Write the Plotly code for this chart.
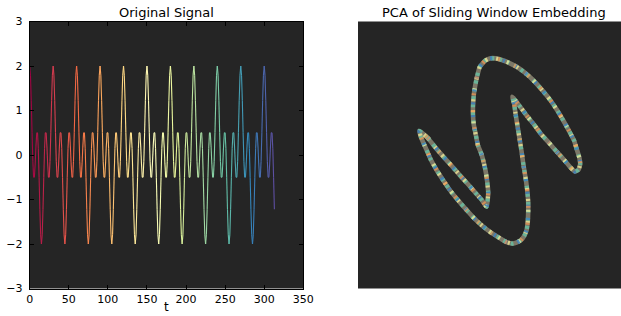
import numpy as np
import plotly.graph_objects as go

# ---------------- data ----------------
# Original signal, one value per time step t = 0 .. 313
SIGNAL = [
    2.0, 1.79, 1.22, 0.5, -0.14, -0.5, -0.5, -0.2, 0.2, 0.5, 0.5, 0.14, -0.5, -1.22, -1.79,
    -2.0, -1.79, -1.22, -0.5, 0.14, 0.5, 0.5, 0.2, -0.2, -0.5, -0.5, -0.14, 0.5, 1.22, 1.79,
    2.0, 1.79, 1.22, 0.5, -0.14, -0.5, -0.5, -0.2, 0.2, 0.5, 0.5, 0.14, -0.5, -1.22, -1.79,
    -2.0, -1.79, -1.22, -0.5, 0.14, 0.5, 0.5, 0.2, -0.2, -0.5, -0.5, -0.14, 0.5, 1.22, 1.79,
    2.0, 1.79, 1.22, 0.5, -0.14, -0.5, -0.5, -0.2, 0.2, 0.5, 0.5, 0.14, -0.5, -1.22, -1.79,
    -2.0, -1.79, -1.22, -0.5, 0.14, 0.5, 0.5, 0.2, -0.2, -0.5, -0.5, -0.14, 0.5, 1.22, 1.79,
    2.0, 1.79, 1.22, 0.5, -0.14, -0.5, -0.5, -0.2, 0.2, 0.5, 0.5, 0.14, -0.5, -1.22, -1.79,
    -2.0, -1.79, -1.22, -0.5, 0.14, 0.5, 0.5, 0.2, -0.2, -0.5, -0.5, -0.14, 0.5, 1.22, 1.79,
    2.0, 1.79, 1.22, 0.5, -0.14, -0.5, -0.5, -0.2, 0.2, 0.5, 0.5, 0.14, -0.5, -1.22, -1.79,
    -2.0, -1.79, -1.22, -0.5, 0.14, 0.5, 0.5, 0.2, -0.2, -0.5, -0.5, -0.14, 0.5, 1.22, 1.79,
    2.0, 1.79, 1.22, 0.5, -0.14, -0.5, -0.5, -0.2, 0.2, 0.5, 0.5, 0.14, -0.5, -1.22, -1.79,
    -2.0, -1.79, -1.22, -0.5, 0.14, 0.5, 0.5, 0.2, -0.2, -0.5, -0.5, -0.14, 0.5, 1.22, 1.79,
    2.0, 1.79, 1.22, 0.5, -0.14, -0.5, -0.5, -0.2, 0.2, 0.5, 0.5, 0.14, -0.5, -1.22, -1.79,
    -2.0, -1.79, -1.22, -0.5, 0.14, 0.5, 0.5, 0.2, -0.2, -0.5, -0.5, -0.14, 0.5, 1.22, 1.79,
    2.0, 1.79, 1.22, 0.5, -0.14, -0.5, -0.5, -0.2, 0.2, 0.5, 0.5, 0.14, -0.5, -1.22, -1.79,
    -2.0, -1.79, -1.22, -0.5, 0.14, 0.5, 0.5, 0.2, -0.2, -0.5, -0.5, -0.14, 0.5, 1.22, 1.79,
    2.0, 1.79, 1.22, 0.5, -0.14, -0.5, -0.5, -0.2, 0.2, 0.5, 0.5, 0.14, -0.5, -1.22, -1.79,
    -2.0, -1.79, -1.22, -0.5, 0.14, 0.5, 0.5, 0.2, -0.2, -0.5, -0.5, -0.14, 0.5, 1.22, 1.79,
    2.0, 1.79, 1.22, 0.5, -0.14, -0.5, -0.5, -0.2, 0.2, 0.5, 0.5, 0.14, -0.5, -1.22, -1.79,
    -2.0, -1.79, -1.22, -0.5, 0.14, 0.5, 0.5, 0.2, -0.2, -0.5, -0.5, -0.14, 0.5, 1.22, 1.79,
    2.0, 1.79, 1.22, 0.5, -0.14, -0.5, -0.5, -0.2, 0.2, 0.5, 0.5, 0.14, -0.5, -1.22,
]
T = list(range(len(SIGNAL)))

# PCA of the sliding-window embedding, traced in order around the loop
PC1 = [-1.99, -1.78, -1.58, -1.38, -1.18, -0.98, -0.78, -0.58, -0.43, -0.31,
       -0.27, -0.30, -0.35, -0.43, -0.53, -0.58, -0.63, -0.65, -0.65, -0.63, -0.60, -0.55, -0.48,
       -0.35, -0.23, -0.08, 0.07, 0.25, 0.44,
       0.65, 0.85, 1.05, 1.28, 1.45, 1.60, 1.75, 1.88, 1.95, 2.01, 2.03, 1.99, 1.90,
       1.78, 1.63, 1.45, 1.25, 1.05, 0.88, 0.70, 0.53, 0.40, 0.33,
       0.38, 0.41, 0.45, 0.49, 0.53, 0.57, 0.60, 0.64, 0.68, 0.71, 0.73, 0.73, 0.72, 0.69, 0.63, 0.55, 0.45, 0.33,
       0.18, 0.03, -0.18, -0.39, -0.60, -0.81, -1.03, -1.23, -1.40, -1.56, -1.70, -1.81, -1.90, -1.96]
PC2 = [0.48, 0.30, 0.05, -0.18, -0.40, -0.63, -0.85, -1.08, -1.25, -1.42,
       -1.08, -0.75, -0.45, -0.13, 0.13, 0.38, 0.63, 0.88, 1.10, 1.38, 1.58, 1.83, 2.08,
       2.23, 2.29, 2.29, 2.25, 2.18, 2.08,
       1.93, 1.75, 1.53, 1.25, 1.00, 0.75, 0.48, 0.23, 0.00, -0.20, -0.35, -0.49, -0.54,
       -0.43, -0.25, -0.05, 0.18, 0.40, 0.63, 0.85, 1.08, 1.25, 1.33,
       1.15, 0.93, 0.68, 0.43, 0.18, -0.08, -0.30, -0.55, -0.80, -1.05, -1.30, -1.55, -1.78, -2.00, -2.15, -2.25, -2.31, -2.34,
       -2.30, -2.21, -2.08, -1.92, -1.73, -1.50, -1.25, -1.00, -0.75, -0.50, -0.25, 0.00, 0.20, 0.35]

X_TICKS = [0, 50, 100, 150, 200, 250, 300, 350]
Y_TICKS = [-3, -2, -1, 0, 1, 2, 3]

# ---------------- style ----------------
SPECTRAL = [(158, 1, 66), (213, 62, 79), (244, 109, 67), (253, 174, 97), (254, 224, 139),
            (255, 255, 191), (230, 245, 152), (171, 221, 164), (102, 194, 165), (50, 136, 189),
            (94, 79, 162)]
_stops = np.linspace(0, 1, len(SPECTRAL))
_arr = np.array(SPECTRAL, dtype=float)


def spectral(v):
    r, g, b = (np.interp(v, _stops, _arr[:, k]) for k in range(3))
    return "rgb(%d,%d,%d)" % (round(r), round(g), round(b))


FONT = "DejaVu Sans"
BG = "#252525"
W, H = 621, 316

fig = go.Figure()

# ---- left panel: signal, coloured along time ----
n = len(SIGNAL)
for i in range(n - 1):
    fig.add_trace(go.Scatter(
        x=T[i:i + 2], y=SIGNAL[i:i + 2], mode="lines",
        line=dict(color=spectral(i / (n - 2)), width=1.1),
        xaxis="x", yaxis="y", hoverinfo="skip", showlegend=False))

# ---- right panel: embedding loop ----
lx = PC1 + PC1[:1]
ly = PC2 + PC2[:1]
band = [
    ("rgb(125,120,104)", 4.6, "solid", 1.0),
    ("rgb(102,194,165)", 4.2, "3px,5px", 0.8),
    ("rgb(238,232,150)", 4.2, "2px,9px", 0.8),
    ("rgb(60,130,190)", 4.2, "2px,11px", 0.85),
    ("rgb(244,150,80)", 4.2, "2px,15px", 0.7),
]
for col, wdt, dash, op in band:
    fig.add_trace(go.Scatter(
        x=lx, y=ly, mode="lines", opacity=op,
        line=dict(color=col, width=wdt, dash=dash, shape="spline", smoothing=0.4),
        xaxis="x2", yaxis="y2", hoverinfo="skip", showlegend=False))

ax_common = dict(showgrid=False, zeroline=False, automargin=False)
fig.update_layout(
    width=W, height=H, autosize=False,
    margin=dict(l=0, r=0, t=0, b=0, pad=0),
    paper_bgcolor="white", plot_bgcolor=BG,
    font=dict(family=FONT, size=11, color="black"),
    xaxis=dict(domain=[29.7 / W, 303.3 / W], range=[0, 350], tickvals=X_TICKS,
               ticks="inside", ticklen=4, tickcolor="black", showline=True, linecolor="black",
               linewidth=1, mirror="ticks", tickfont=dict(size=11), anchor="y", **ax_common),
    yaxis=dict(domain=[1 - 288.5 / H, 1 - 21.5 / H], range=[-3, 3], tickvals=Y_TICKS,
               ticks="inside", ticklen=4, tickcolor="black", showline=True, linecolor="black",
               linewidth=1, mirror="ticks", tickfont=dict(size=11), ticklabelstandoff=4,
               anchor="x", **ax_common),
    xaxis2=dict(domain=[358 / W, 1.0], range=[-3.525, 3.05], showticklabels=False,
                ticks="", showline=False, anchor="y2", **ax_common),
    yaxis2=dict(domain=[1 - 288.5 / H, 1 - 21.5 / H], range=[-3.4625, 3.2125],
                showticklabels=False, ticks="", showline=False, anchor="x2", **ax_common),
    annotations=[
        dict(text="Original Signal", x=166.5 / W, y=1 - 12.5 / H, xref="paper", yref="paper",
             xanchor="center", yanchor="middle", showarrow=False, font=dict(size=13)),
        dict(text="PCA of Sliding Window Embedding", x=494 / W, y=1 - 12.5 / H, xref="paper",
             yref="paper", xanchor="center", yanchor="middle", showarrow=False,
             font=dict(size=13)),
        dict(text="t", x=166.5 / W, y=0, xref="paper", yref="paper",
             xanchor="center", yanchor="bottom", showarrow=False, font=dict(size=12)),
    ],
)

fig.write_html("out.html", config={"displayModeBar": False},
               post_script="document.body.style.margin='0';"
                           "document.body.style.overflow='hidden';")
